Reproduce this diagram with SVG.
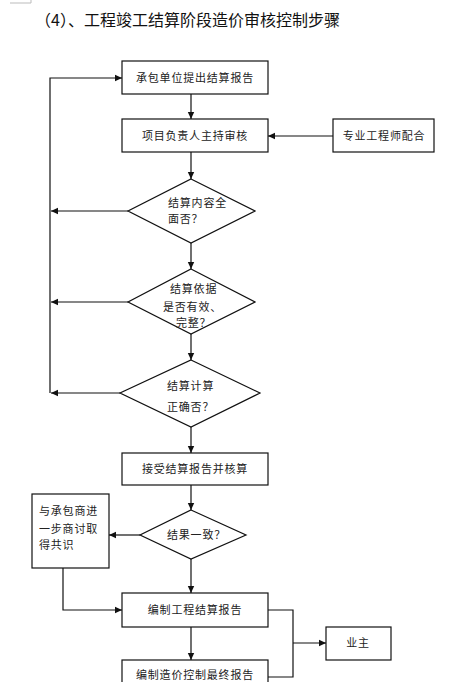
<svg xmlns="http://www.w3.org/2000/svg" width="467" height="682" viewBox="0 0 467 682">
<defs>
<marker id="ah" markerWidth="8" markerHeight="8" refX="7" refY="4" orient="auto" markerUnits="userSpaceOnUse">
<path d="M0,0.8 L7,4 L0,7.2 Z" fill="#111"/>
</marker>
<style>
.box{fill:#fff;stroke:#111;stroke-width:1.2}
.t{font-family:"Noto Sans CJK SC","Liberation Sans",sans-serif;font-size:11px;fill:#222;letter-spacing:0.8px}
.tc{text-anchor:middle}
.title{font-family:"Noto Sans CJK SC","Liberation Serif",serif;font-size:16px;fill:#111}
.ln{fill:none;stroke:#111;stroke-width:1.2}
.ar{fill:none;stroke:#111;stroke-width:1.2;marker-end:url(#ah)}
</style>
</defs>
<rect width="467" height="682" fill="#fff"/>
<polyline points="10,3 31,3 31,0" fill="none" stroke="#bbb" stroke-width="1"/>
<text class="title" x="35" y="26">（4）、工程竣工结算阶段造价审核控制步骤</text>

<g id="n1"><rect class="box" x="122" y="61" width="146" height="33"/><text class="t tc" x="195" y="82">承包单位提出结算报告</text></g>
<g id="n2"><rect class="box" x="122" y="119" width="146" height="33"/><text class="t tc" x="195" y="140">项目负责人主持审核</text></g>
<g id="n3"><rect class="box" x="333" y="119" width="101" height="33"/><text class="t tc" x="384" y="140">专业工程师配合</text></g>
<g id="d1"><polygon class="box" points="191,179 255,211 191,243 128,211"/><text class="t" x="168" y="207">结算内容全</text><text class="t" x="168" y="223">面否？</text></g>
<g id="d2"><polygon class="box" points="191,269 255,302 191,334 128,302"/><text class="t" x="170" y="293">结算依据</text><text class="t" x="163" y="311">是否有效、</text><text class="t" x="176" y="327">完整？</text></g>
<g id="d3"><polygon class="box" points="191,360 260,393 191,427 120,393"/><text class="t" x="167" y="390">结算计算</text><text class="t" x="167" y="411">正确否？</text></g>
<g id="n4"><rect class="box" x="122" y="453" width="146" height="32"/><text class="t tc" x="195" y="473">接受结算报告并核算</text></g>
<g id="d4"><polygon class="box" points="191,510 246,535 191,559 140,535"/><text class="t" x="167" y="539">结果一致？</text></g>
<g id="n5"><rect class="box" x="32" y="494" width="77" height="74"/><text class="t" x="39" y="515">与承包商进</text><text class="t" x="39" y="533">一步商讨取</text><text class="t" x="39" y="549">得共识</text></g>
<g id="n6"><rect class="box" x="122" y="593" width="146" height="34"/><text class="t tc" x="195" y="614">编制工程结算报告</text></g>
<g id="n7"><rect class="box" x="122" y="660" width="146" height="34"/><text class="t tc" x="195" y="679">编制造价控制最终报告</text></g>
<g id="n8"><rect class="box" x="326" y="627" width="65" height="33"/><text class="t tc" x="358" y="647">业主</text></g>

<g id="connectors">
<line class="ar" x1="191" y1="94" x2="191" y2="119"/>
<line class="ar" x1="333" y1="136" x2="268" y2="136"/>
<line class="ar" x1="191" y1="152" x2="191" y2="179"/>
<line class="ar" x1="128" y1="211" x2="51" y2="211"/>
<line class="ar" x1="191" y1="243" x2="191" y2="269"/>
<line class="ar" x1="128" y1="302" x2="51" y2="302"/>
<line class="ar" x1="191" y1="334" x2="191" y2="360"/>
<line class="ar" x1="120" y1="393" x2="51" y2="393"/>
<polyline class="ar" points="50,393 50,78 122,78"/>
<line class="ar" x1="191" y1="427" x2="191" y2="453"/>
<line class="ar" x1="191" y1="485" x2="191" y2="510"/>
<line class="ar" x1="140" y1="535" x2="109" y2="535"/>
<line class="ar" x1="191" y1="559" x2="191" y2="593"/>
<polyline class="ar" points="63,568 63,610 122,610"/>
<line class="ar" x1="191" y1="627" x2="191" y2="660"/>
<polyline class="ln" points="268,610 293,610 293,677 268,677"/>
<line class="ar" x1="293" y1="643" x2="326" y2="643"/>
</g>
</svg>
